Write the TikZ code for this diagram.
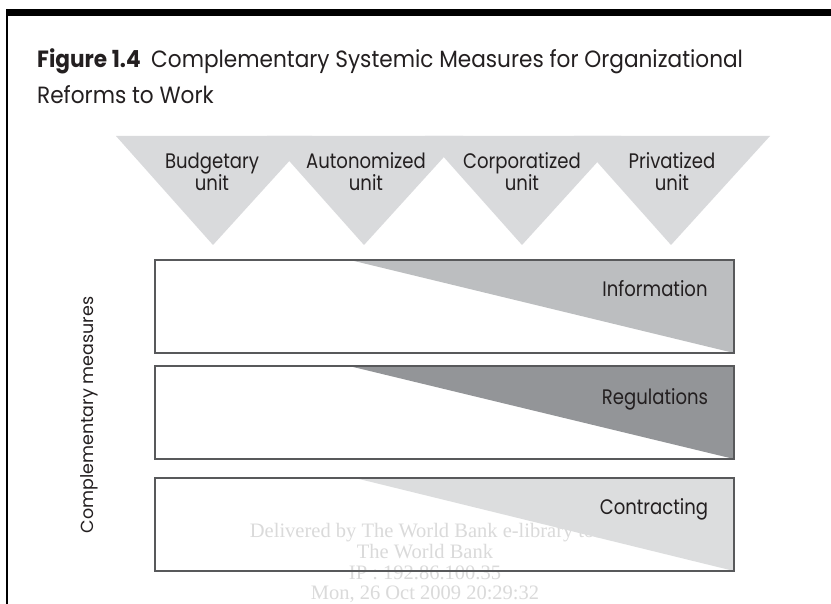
\documentclass[tikz,border=0pt]{standalone}
\usepackage{fontspec}
\setmainfont{Poppins}
\newfontfamily\lblfont[FakeStretch=0.86]{Poppins}
\newfontfamily\ttlfont[FakeStretch=0.92]{Poppins}
\newfontfamily\wmfont{Liberation Serif}
\definecolor{txt}{HTML}{231F20}
\definecolor{trigray}{HTML}{D9DADC}
\definecolor{infogray}{HTML}{BCBEC0}
\definecolor{reggray}{HTML}{939598}
\definecolor{congray}{HTML}{DCDDDE}
\definecolor{edge}{HTML}{58595B}
\definecolor{wmgray}{HTML}{DADADA}
\begin{document}
\begin{tikzpicture}[x=1pt,y=-1pt,
  lbl/.style={font=\lblfont\fontsize{21}{24}\selectfont, text=txt, inner sep=0pt, anchor=base},
  ttl/.style={font=\ttlfont\fontsize{23.5}{27}\selectfont, text=txt, inner sep=0pt, anchor=base west},
  wm/.style={font=\wmfont\fontsize{20.5}{22}\selectfont, text=wmgray, inner sep=0pt, anchor=base},
  boxedge/.style={draw=edge, line width=1.5pt},
]
\useasboundingbox (0,0) rectangle (831,604);
\fill[white] (0,0) rectangle (831,604);
% frame
\fill[black] (6,9) rectangle (831,16);
\draw[black, line width=2pt] (7,9) -- (7,604);
% title
\node[ttl] (title1) at (37,68) {\textbf{Figure 1.4}\hspace{0.45em}Complementary Systemic Measures for Organizational};
\node[ttl] (title2) at (37,104) {Reforms to Work};
% unit triangles
\foreach \a in {213,364,522,671}{
  \fill[trigray] (\a-97,136) -- (\a+99,136) -- (\a,245) -- cycle;
}
\node[lbl] (bud1) at (212,169) {Budgetary};
\node[lbl] (bud2) at (212,191) {unit};
\node[lbl] (aut1) at (366,169) {Autonomized};
\node[lbl] (aut2) at (366,191) {unit};
\node[lbl] (cor1) at (522,169) {Corporatized};
\node[lbl] (cor2) at (522,191) {unit};
\node[lbl] (pri1) at (672,169) {Privatized};
\node[lbl] (pri2) at (672,191) {unit};
% watermark (under the shading)
\node[wm] (wm1) at (425,537) {Delivered by The World Bank e-library to:};
\node[wm] (wm2) at (425,558) {The World Bank};
\node[wm] (wm3) at (425,579) {IP : 192.86.100.35};
\node[wm] (wm4) at (425,599) {Mon, 26 Oct 2009 20:29:32};
% measure boxes
\fill[infogray] (350,260) -- (734,260) -- (734,353) -- cycle;
\draw[boxedge] (155,260) rectangle (734,353);
\fill[reggray] (349,366) -- (734,366) -- (734,459) -- cycle;
\draw[boxedge] (155,366) rectangle (734,459);
\fill[congray] (355,478) -- (734,478) -- (734,571) -- cycle;
\draw[boxedge] (155,478) rectangle (734,571);
\node[lbl] (info) at (655,297) {Information};
\node[lbl] (regu) at (655,404) {Regulations};
\node[lbl] (cont) at (654,514) {Contracting};
% side label
\node[font=\fontsize{17.5}{20}\selectfont, text=txt, inner sep=0pt, rotate=90] (side) at (89,415) {Complementary measures};
\end{tikzpicture}
\end{document}
